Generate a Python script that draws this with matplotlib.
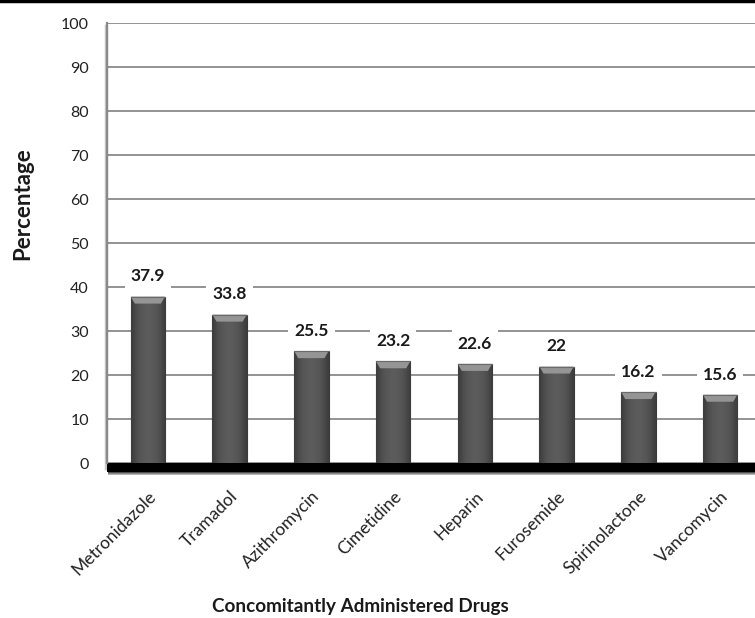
import numpy as np
import matplotlib
matplotlib.use("Agg")
from matplotlib import pyplot as plt
from matplotlib.patches import Polygon, Rectangle
from matplotlib.lines import Line2D

plt.rcParams['font.family'] = ['Lato', 'DejaVu Sans']

drugs = ["Metronidazole", "Tramadol", "Azithromycin", "Cimetidine",
         "Heparin", "Furosemide", "Spirinolactone", "Vancomycin"]
percent = [37.9, 33.8, 25.5, 23.2, 22.6, 22, 16.2, 15.6]
value_labels = ["37.9", "33.8", "25.5", "23.2", "22.6", "22", "16.2", "15.6"]
yticks = list(range(0, 101, 10))

W, H = 755, 618
fig = plt.figure(figsize=(W / 100, H / 100), dpi=100, facecolor='white')
ax = fig.add_axes([107 / W, (H - 463.3) / H, 654 / W, 440 / H])
ax.set_facecolor('white')

x = np.arange(len(drugs))
bar_w = 0.42

# horizontal shading for the bars: dark edges, lighter middle
shade = np.array([0.24, 0.29, 0.32, 0.34, 0.35, 0.36, 0.36, 0.35, 0.34, 0.32, 0.29, 0.24])
grad = shade[np.newaxis, :]

bars = ax.bar(x, percent, width=bar_w, color='#555555', edgecolor='#3a3a3a',
              linewidth=0.8, zorder=3)
for b, v in zip(bars, percent):
    x0 = b.get_x()
    x1 = x0 + b.get_width()
    im = ax.imshow(grad, cmap='gray', vmin=0, vmax=1, aspect='auto',
                   extent=[x0, x1, 0, v], zorder=3.5, interpolation='bicubic')
    im.set_clip_path(b)
    # bevelled top
    dx = 0.05
    dy = 1.6
    top = Polygon([[x0, v], [x1, v], [x1 - dx, v - dy], [x0 + dx, v - dy]],
                  closed=True, facecolor='#959595', edgecolor='none', zorder=4)
    ax.add_patch(top)
    ax.plot([x0, x1], [v, v], color='#6a6a6a', lw=0.8, zorder=4.2)

# value labels sit on white boxes that break the gridlines
for xi, v, lab in zip(x, percent, value_labels):
    ax.annotate(lab, (xi, v), xytext=(0, 14.5), textcoords='offset points',
                ha='center', va='center', fontsize=12.5, fontweight='bold',
                color='#1a1a1a', zorder=5,
                bbox=dict(boxstyle='square,pad=0.35', facecolor='white',
                          edgecolor='none'))

# dark floor under the bars
ax.add_patch(Rectangle((-0.5, -2.0), 8.0, 2.0, facecolor='black',
                       edgecolor='none', zorder=2.5, clip_on=False))
floor = np.linspace(0.05, 0.8, 10)[:, np.newaxis]
ax.imshow(floor, cmap='gray', vmin=0, vmax=1, aspect='auto',
          extent=[-0.49, 7.5, -2.7, -2.0], zorder=2, clip_on=False,
          interpolation='bicubic', origin='upper')

ax.set_xlim(-0.5, 7.5)
ax.set_ylim(0, 100)
ax.set_yticks(yticks)
ax.yaxis.grid(True, color='#8a8a8a', linewidth=1.3, zorder=0)
ax.set_axisbelow(True)

for side in ['top', 'right', 'bottom']:
    ax.spines[side].set_visible(False)
ax.spines['left'].set_color('#8a8a8a')
ax.spines['left'].set_linewidth(1.6)
# soft shadow behind the left wall
ax.plot([-0.515, -0.515], [-1, 99.5], color='#c8c8c8', lw=2.5, zorder=0.5,
        clip_on=False)

ax.tick_params(axis='y', length=0, pad=13, labelsize=11.5, labelcolor='#222222')
ax.tick_params(axis='x', length=0, pad=18, labelsize=12.5, labelcolor='#222222')
ax.set_xticks(x)
ax.set_xticklabels(drugs, rotation=45, ha='right', rotation_mode='anchor')

fig.text(23 / W, 1 - 203.5 / H, "Percentage", rotation=90, ha='center',
         va='center', fontsize=16, fontweight='bold', color='#1a1a1a')
fig.text(360 / W, 1 - 612 / H, "Concomitantly Administered Drugs",
         ha='center', va='baseline', fontsize=13.6, fontweight='bold',
         color='#1a1a1a')

# black rule along the top edge
fig.add_artist(Line2D([0, 1], [1 - 1 / H, 1 - 1 / H], color='black', lw=2.5,
                      transform=fig.transFigure))

fig.savefig("out.png", dpi=100, facecolor='white')
